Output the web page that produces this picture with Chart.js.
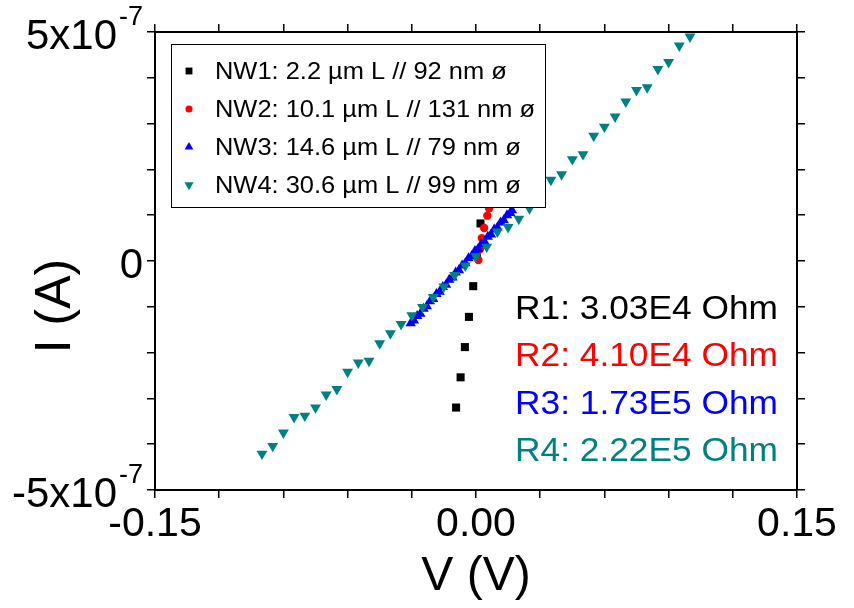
<!DOCTYPE html>
<html>
<head>
<meta charset="utf-8">
<script src="https://cdn.jsdelivr.net/npm/chart.js@4.4.1/dist/chart.umd.min.js"></script>
<style>
  html, body { margin: 0; padding: 0; background: #fff; }
  #wrap { width: 854px; height: 608px; }
</style>
</head>
<body>
<div id="wrap"><canvas id="ivChart" width="854" height="608"></canvas></div>
<script>
// --- Data (V in volts, I in amps) ---
const vNW1 = [-0.0093, -0.0072, -0.0052, -0.0033, -0.0013, 0.0004, 0.0021];
const iNW1 = [-3.20e-7, -2.54e-7, -1.88e-7, -1.22e-7, -0.55e-7, 0.12e-7, 0.82e-7];

const vNW2 = [0.0011, 0.0019, 0.0027, 0.0038, 0.0053, 0.0061];
const iNW2 = [0.02e-7, 0.26e-7, 0.50e-7, 0.72e-7, 0.99e-7, 1.15e-7];

const vNW3 = [-0.0305, -0.029, -0.0275, -0.026, -0.0245, -0.023, -0.0215, -0.020, -0.0185, -0.017,
              -0.0155, -0.014, -0.0125, -0.011, -0.0095, -0.008, -0.0065, -0.005, -0.0035, -0.002,
              -0.0005, 0.001, 0.0025, 0.004, 0.0055, 0.007, 0.0085, 0.010, 0.0115, 0.013, 0.0145, 0.016, 0.0168];
const iNW3 = [-1.36e-7, -1.30e-7, -1.20e-7, -1.15e-7, -1.04e-7, -0.99e-7, -0.88e-7, -0.83e-7, -0.72e-7, -0.67e-7,
              -0.57e-7, -0.52e-7, -0.41e-7, -0.36e-7, -0.25e-7, -0.20e-7, -0.10e-7, -0.05e-7, 0.06e-7, 0.11e-7,
              0.22e-7, 0.26e-7, 0.37e-7, 0.42e-7, 0.53e-7, 0.58e-7, 0.69e-7, 0.73e-7, 0.84e-7, 0.89e-7, 1.00e-7, 1.05e-7, 1.11e-7];

const vNW4 = [-0.100, -0.095, -0.090, -0.085, -0.080, -0.075, -0.070, -0.065, -0.060, -0.055,
              -0.050, -0.045, -0.040, -0.035, -0.030, -0.025, -0.020, -0.015, -0.010, -0.005,
              0.000, 0.005, 0.010, 0.015, 0.020, 0.025, 0.030, 0.035, 0.040, 0.045,
              0.050, 0.055, 0.060, 0.065, 0.070, 0.075, 0.080, 0.085, 0.090, 0.095, 0.100];
const iNW4 = [-4.21e-7, -4.04e-7, -3.75e-7, -3.41e-7, -3.38e-7, -3.20e-7, -2.92e-7, -2.80e-7, -2.42e-7, -2.22e-7,
              -2.18e-7, -1.80e-7, -1.58e-7, -1.38e-7, -1.19e-7, -1.01e-7, -0.79e-7, -0.56e-7, -0.31e-7, -0.10e-7,
              0.10e-7, 0.31e-7, 0.64e-7, 0.74e-7, 0.92e-7, 1.15e-7, 1.50e-7, 1.77e-7, 1.89e-7, 2.22e-7,
              2.33e-7, 2.73e-7, 2.93e-7, 3.15e-7, 3.48e-7, 3.73e-7, 3.79e-7, 4.19e-7, 4.34e-7, 4.70e-7, 4.90e-7];

const seriesNames = ['NW1: 2.2 µm L // 92 nm ø', 'NW2: 10.1 µm L // 131 nm ø', 'NW3: 14.6 µm L // 79 nm ø', 'NW4: 30.6 µm L // 99 nm ø'];
const resistLabels = ['R1: 3.03E4 Ohm', 'R2: 4.10E4 Ohm', 'R3: 1.73E5 Ohm', 'R4: 2.22E5 Ohm'];
const seriesColors = ['#000000', '#ff0000', '#0000ff', '#008080'];

const xTicksShown = [-0.15, 0, 0.15];
const xTickText = ['-0.15', '0.00', '0.15'];
const yTicksShown = [5e-7, 0, -5e-7];
const yTickBase = ['5x10', '0', '-5x10'];
const yTickExp = ['-7', '', '-7'];

const FONT = '"Liberation Sans", Arial, sans-serif';

function pairs(xs, ys) { return xs.map((x, i) => ({ x: x, y: ys[i] })); }

// text drawn a little wider than Liberation Sans, like the original
function wideText(ctx, text, x, y, stretch) {
    ctx.save();
    ctx.translate(x, y);
    ctx.scale(stretch, 1);
    ctx.fillText(text, 0, 0);
    ctx.restore();
}

// --- overlay: in-plot legend box, resistance notes, y labels ---
const overlayPlugin = {
    id: 'overlay',
    afterDatasetsDraw(chart) {
        const ctx = chart.ctx;
        ctx.save();
        // legend box
        ctx.fillStyle = '#fff';
        ctx.fillRect(171, 44, 374, 163);
        ctx.strokeStyle = '#000';
        ctx.lineWidth = 1;
        ctx.strokeRect(171.5, 44.5, 374, 163);
        const rows = [71, 109, 147, 185];
        chart.data.datasets.forEach((ds, i) => {
            ctx.fillStyle = seriesColors[i];
            ctx.strokeStyle = seriesColors[i];
            Chart.helpers.drawPoint(ctx, {
                pointStyle: ds.pointStyle, radius: ds.pointRadius * 0.85, rotation: ds.rotation || 0,
                borderWidth: 0
            }, 189, rows[i]);
            ctx.fillStyle = '#000';
            ctx.font = '24px ' + FONT;
            ctx.textAlign = 'left';
            ctx.textBaseline = 'middle';
            wideText(ctx, seriesNames[i], 215, rows[i] + 1, 1.06);
        });
        // resistance notes
        ctx.font = '33px ' + FONT;
        ctx.textAlign = 'left';
        ctx.textBaseline = 'middle';
        const rRows = [310, 357, 405, 452];
        resistLabels.forEach((t, i) => {
            ctx.fillStyle = seriesColors[i];
            wideText(ctx, t, 515, rRows[i], 1.07);
        });
        ctx.restore();
    },
    afterDraw(chart) {
        const ctx = chart.ctx;
        const yScale = chart.scales.y;
        ctx.save();
        ctx.fillStyle = '#000';
        ctx.textBaseline = 'alphabetic';
        const right = 143;
        yTicksShown.forEach((v, i) => {
            const py = yScale.getPixelForValue(v);
            let x = right;
            if (yTickExp[i]) {
                ctx.font = '27px ' + FONT;
                ctx.textAlign = 'right';
                ctx.fillText(yTickExp[i], x, py - 7);
                x -= ctx.measureText(yTickExp[i]).width + 2;
            }
            ctx.font = '42px ' + FONT;
            ctx.textAlign = 'right';
            ctx.fillText(yTickBase[i], x, py + 17);
        });
        // y axis title
        ctx.translate(56, 306);
        ctx.rotate(-Math.PI / 2);
        ctx.font = '50px ' + FONT;
        ctx.textAlign = 'center';
        ctx.textBaseline = 'middle';
        ctx.fillText('I (A)', 0, 0);
        ctx.restore();
    }
};

const tickGrid = { drawOnChartArea: false, drawTicks: true, tickLength: 8, color: '#000', lineWidth: 1.5 };
const axisBorder = { display: true, color: '#000', width: 2 };
const xTickValues = [-0.15, -0.12, -0.09, -0.06, -0.03, 0, 0.03, 0.06, 0.09, 0.12, 0.15];
const yTickValues = [-5e-7, -4e-7, -3e-7, -2e-7, -1e-7, 0, 1e-7, 2e-7, 3e-7, 4e-7, 5e-7];

new Chart(document.getElementById('ivChart'), {
    type: 'scatter',
    data: {
        datasets: [
            { label: seriesNames[0], data: pairs(vNW1, iNW1), pointStyle: 'rect', pointRadius: 5.7, backgroundColor: seriesColors[0], borderWidth: 0, order: 4 },
            { label: seriesNames[1], data: pairs(vNW2, iNW2), pointStyle: 'circle', pointRadius: 4.2, backgroundColor: seriesColors[1], borderWidth: 0, order: 3 },
            { label: seriesNames[2], data: pairs(vNW3, iNW3), pointStyle: 'triangle', pointRadius: 6, backgroundColor: seriesColors[2], borderWidth: 0, order: 2 },
            { label: seriesNames[3], data: pairs(vNW4, iNW4), pointStyle: 'triangle', rotation: 180, pointRadius: 6.3, backgroundColor: seriesColors[3], borderWidth: 0, order: 1 }
        ]
    },
    options: {
        responsive: false,
        animation: false,
        devicePixelRatio: 1,
        layout: { padding: 0 },
        plugins: { legend: { display: false }, tooltip: { enabled: false } },
        scales: {
            x: {
                type: 'linear', position: 'bottom', min: -0.15, max: 0.15,
                afterBuildTicks(s) { s.ticks = xTickValues.map(v => ({ value: v })); },
                ticks: {
                    color: '#000', font: { family: FONT, size: 41 }, padding: 2, maxRotation: 0, autoSkip: false,
                    callback(v) { const k = xTicksShown.findIndex(t => Math.abs(t - v) < 1e-9); return k >= 0 ? xTickText[k] : ''; }
                },
                grid: tickGrid, border: axisBorder,
                title: { display: true, text: 'V (V)', color: '#000', font: { family: FONT, size: 48 }, padding: { top: 0, bottom: 2 } },
                afterFit(s) { s.height = 118; }
            },
            x2: {
                type: 'linear', position: 'top', min: -0.15, max: 0.15,
                afterBuildTicks(s) { s.ticks = xTickValues.map(v => ({ value: v })); },
                ticks: { callback() { return ''; }, font: { size: 1 } },
                grid: tickGrid, border: axisBorder,
                afterFit(s) { s.height = 32; }
            },
            y: {
                type: 'linear', position: 'left', min: -5e-7, max: 5e-7,
                afterBuildTicks(s) { s.ticks = yTickValues.map(v => ({ value: v })); },
                ticks: { callback() { return ''; }, font: { size: 1 } },
                grid: tickGrid, border: axisBorder,
                afterFit(s) { s.width = 155; }
            },
            y2: {
                type: 'linear', position: 'right', min: -5e-7, max: 5e-7,
                afterBuildTicks(s) { s.ticks = yTickValues.map(v => ({ value: v })); },
                ticks: { callback() { return ''; }, font: { size: 1 } },
                grid: tickGrid, border: axisBorder,
                afterFit(s) { s.width = 57; }
            }
        }
    },
    plugins: [overlayPlugin]
});
</script>
</body>
</html>
